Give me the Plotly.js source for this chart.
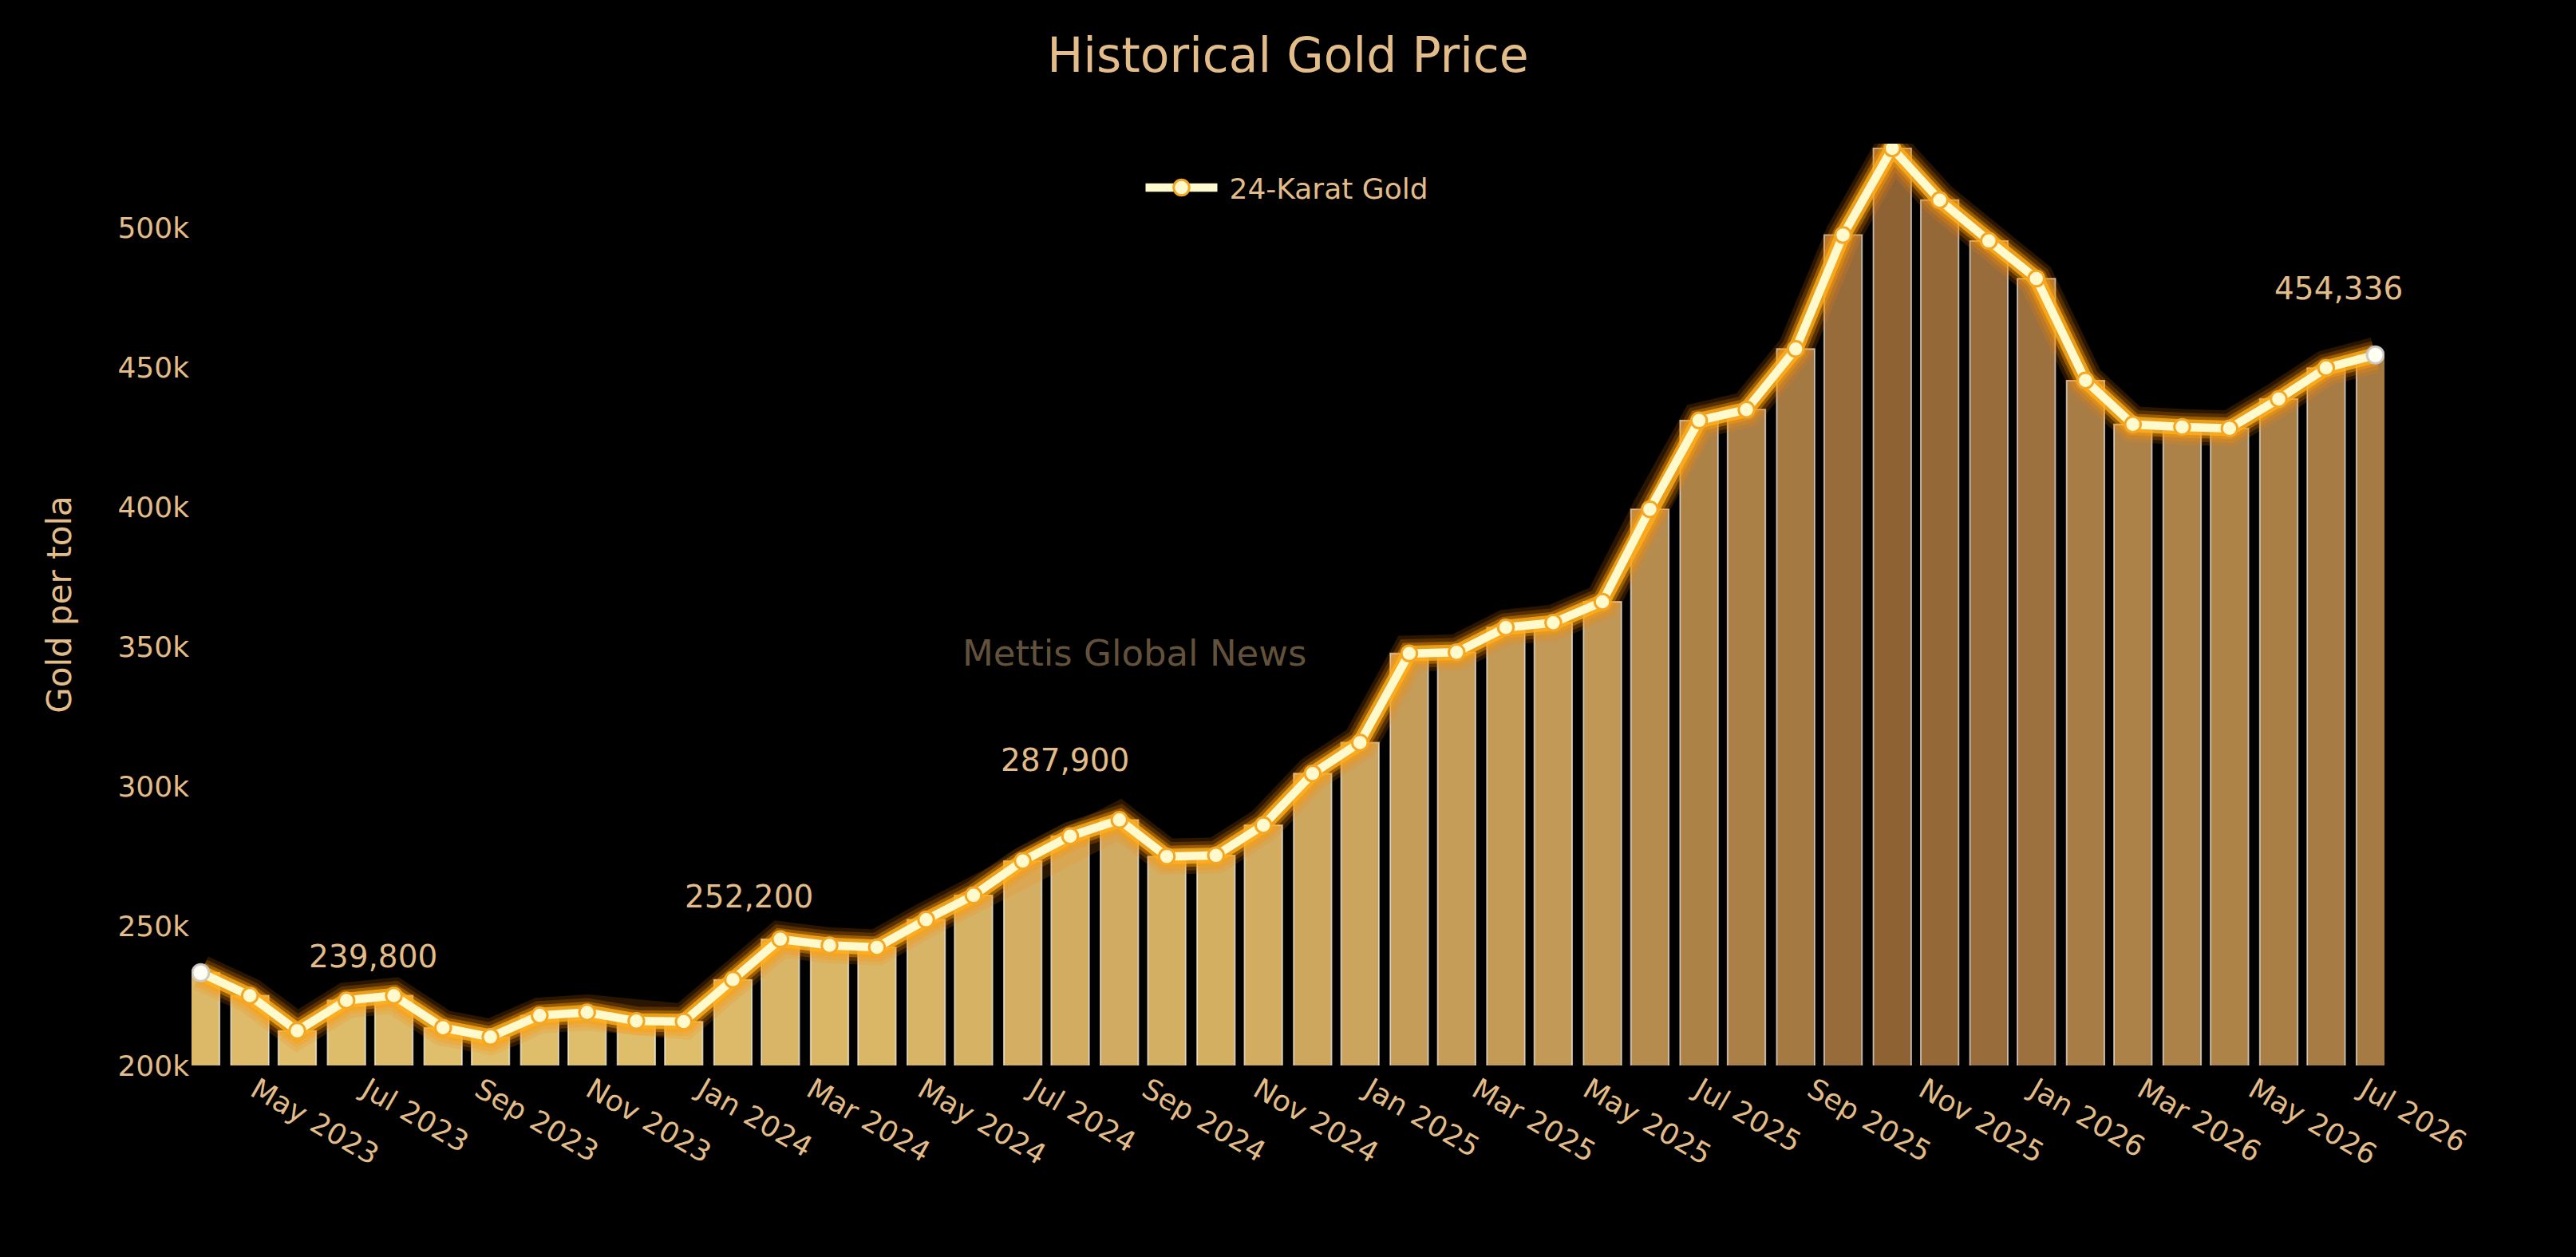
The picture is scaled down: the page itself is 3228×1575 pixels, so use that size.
<!DOCTYPE html>
<html>
<head>
<meta charset="utf-8">
<script src="https://cdn.plot.ly/plotly-3.0.1.min.js"></script>
<style>
  html, body { margin: 0; padding: 0; background: #000; overflow: hidden; }
</style>
</head>
<body>
<div id="goldPlot"></div>
<script>
// monthly-ish readings, price per tola
let dates = [
    "2023-04-06", "2023-05-03", "2023-05-29", "2023-06-25", "2023-07-21", "2023-08-17",
    "2023-09-12", "2023-10-09", "2023-11-04", "2023-12-01", "2023-12-27", "2024-01-23",
    "2024-02-18", "2024-03-16", "2024-04-11", "2024-05-08", "2024-06-03", "2024-06-30",
    "2024-07-26", "2024-08-22", "2024-09-17", "2024-10-14", "2024-11-09", "2024-12-06",
    "2025-01-01", "2025-01-28", "2025-02-23", "2025-03-22", "2025-04-17", "2025-05-14",
    "2025-06-09", "2025-07-06", "2025-08-01", "2025-08-28", "2025-09-23", "2025-10-20",
    "2025-11-15", "2025-12-12", "2026-01-07", "2026-02-03", "2026-03-01", "2026-03-28",
    "2026-04-23", "2026-05-20", "2026-06-15", "2026-07-12"
];
let prices = [
    233200, 225000, 212400, 223300, 225000, 213500,
    210200, 217900, 219000, 215900, 215700, 230700,
    245200, 243000, 242300, 252200, 260900, 273200,
    282100, 287900, 274800, 275200, 286000, 304500,
    315600, 347500, 347900, 356800, 358500, 366000,
    399100, 430900, 434800, 456500, 497300, 528300,
    509800, 495200, 481700, 445200, 429500, 428600,
    428100, 438600, 449700, 454336
];
let seriesName = "24-Karat Gold";
let calloutTexts = ["239,800", "252,200", "287,900", "454,336"];
let watermark = "Mettis Global News";

let gold = "#E2BC89";
let cream = "#FFFACD";
let fontFamily = "DejaVu Sans, Verdana, sans-serif";

// chart is laid out at 1076x525 and scaled up 3x through the svg viewBox
let W = 1076, H = 525, SCALE = 3;

let bars = {
    type: 'bar',
    x: dates,
    y: prices,
    marker: {
        color: prices,
        colorscale: [[0, '#E0BF6C'], [0.45, '#C49B57'], [1, '#8F6234']],
        line: {color: 'rgba(255,255,255,0.65)', width: 0.6}
    },
    showlegend: false,
    hoverinfo: 'skip'
};

// stacked translucent lines give the glow round the price line
let glowLayers = [
    [15, 'rgba(255,130,0,0.16)'],
    [12, 'rgba(255,145,0,0.22)'],
    [9, 'rgba(255,160,0,0.40)'],
    [6.5, 'rgba(255,175,30,0.80)']
];
let glow = glowLayers.map(g => ({
    type: 'scatter',
    mode: 'lines',
    x: dates,
    y: prices,
    line: {color: g[1], width: g[0]},
    showlegend: false,
    hoverinfo: 'skip'
}));

let priceLine = {
    type: 'scatter',
    mode: 'lines+markers',
    name: seriesName,
    x: dates,
    y: prices,
    line: {color: cream, width: 3.5},
    marker: {size: 6.5, color: cream, line: {color: '#F5A623', width: 1}}
};

let last = dates.length - 1;
let ends = {
    type: 'scatter',
    mode: 'markers',
    x: [dates[0], dates[last]],
    y: [prices[0], prices[last]],
    marker: {size: 7, color: '#FFFFF4', line: {color: 'rgba(200,200,200,0.9)', width: 1}},
    showlegend: false,
    hoverinfo: 'skip'
};

let calloutPos = [
    ['2023-07-10', 239300],
    ['2024-02-01', 260600],
    ['2024-07-24', 309700],
    ['2026-06-22', 478300]
];
let annotations = calloutTexts.map((t, i) => ({
    text: t,
    x: calloutPos[i][0],
    y: calloutPos[i][1],
    xref: 'x', yref: 'y',
    showarrow: false,
    font: {family: fontFamily, size: 13, color: gold}
}));
annotations.push({
    text: watermark,
    xref: 'paper', yref: 'paper',
    x: 0.43, y: 0.4475,
    showarrow: false,
    font: {family: fontFamily, size: 15, color: 'rgba(226,188,137,0.45)'}
});

let layout = {
    width: W,
    height: H,
    margin: {l: 80, r: 80, t: 60, b: 80},
    paper_bgcolor: '#000',
    plot_bgcolor: '#000',
    font: {family: fontFamily, color: gold, size: 12},
    title: {
        text: 'Historical Gold Price',
        font: {family: fontFamily, size: 20, color: gold},
        x: 0.5, xanchor: 'center', y: 0.956, yanchor: 'middle'
    },
    xaxis: {
        type: 'date',
        range: ['2023-04-01', '2026-07-17'],
        tick0: '2023-01-01',
        dtick: 'M2',
        tickformat: '%b %Y',
        tickangle: 30,
        ticklabelshift: 4,
        tickfont: {family: fontFamily, size: 12, color: gold},
        showgrid: false, zeroline: false, showline: false
    },
    yaxis: {
        range: [200000, 530000],
        dtick: 50000,
        tickfont: {family: fontFamily, size: 12, color: gold},
        title: {text: 'Gold per tola', standoff: 15, font: {family: fontFamily, size: 14, color: gold}},
        showgrid: false, zeroline: false, showline: false
    },
    legend: {
        orientation: 'h',
        x: 0.5, xanchor: 'center',
        y: 0.99, yanchor: 'top',
        bgcolor: 'rgba(0,0,0,0)',
        font: {family: fontFamily, size: 12, color: gold}
    },
    annotations: annotations
};

function scaleUp(){
    let box = document.querySelector('#goldPlot .svg-container');
    box.style.width = (W * SCALE) + 'px';
    box.style.height = (H * SCALE) + 'px';
    document.querySelectorAll('#goldPlot svg.main-svg').forEach(svg => {
        svg.setAttribute('viewBox', '0 0 ' + W + ' ' + H);
        svg.setAttribute('width', W * SCALE);
        svg.setAttribute('height', H * SCALE);
        svg.style.width = (W * SCALE) + 'px';
        svg.style.height = (H * SCALE) + 'px';
    });
}

Plotly.newPlot('goldPlot', [bars].concat(glow, [priceLine, ends]), layout, {displayModeBar: false, staticPlot: true})
    .then(scaleUp);
</script>
</body>
</html>
